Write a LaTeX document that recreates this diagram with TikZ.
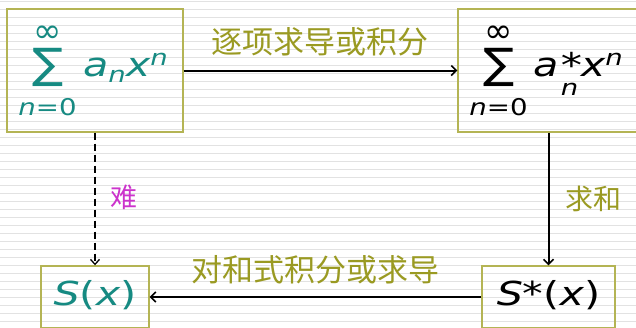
\documentclass[tikz,border=0pt]{standalone}
\usepackage{fontspec}
\usepackage{graphicx}
\setmainfont{DejaVu Sans}
\newfontfamily\cjk{Noto Sans CJK SC}
\usetikzlibrary{arrows.meta}
\definecolor{tealc}{HTML}{168A82}
\definecolor{olivec}{HTML}{9A9A22}
\definecolor{boxc}{HTML}{B4B454}
\definecolor{magc}{HTML}{CC33CC}
\definecolor{rulec}{HTML}{E2E2E2}
\tikzset{
  box/.style={draw=boxc, line width=1.4pt, inner sep=0pt, rectangle},
  conn/.style={line width=2pt, -{Straight Barb[length=5pt,width=10pt,line width=1.5pt]}},
  dconn/.style={line width=1.6pt, dash pattern=on 7pt off 4pt, -{Straight Barb[length=5pt,width=9pt,line width=1.3pt]}},
  lab/.style={font=\cjk\fontsize{31}{31}\selectfont, text=olivec, inner sep=0pt},
  slab/.style={font=\cjk\fontsize{27}{27}\selectfont, inner sep=0pt},
  big/.style={font=\fontsize{33}{33}\selectfont, inner sep=0pt},
  sig/.style={font=\fontsize{42}{42}\selectfont, inner sep=0pt},
  lim/.style={font=\fontsize{23}{23}\selectfont, inner sep=0pt, anchor=base},
  infs/.style={font=\fontsize{34}{34}\selectfont, inner sep=0pt},
}
\newcommand{\xs}[2][1.25]{\scalebox{#1}[1]{#2}}
\newcommand{\subn}{\raisebox{-6pt}{\fontsize{22}{22}\selectfont\itshape n}}
\newcommand{\lown}{\raisebox{-19pt}{\fontsize{22}{22}\selectfont\itshape n}}
\newcommand{\supn}{\raisebox{11pt}{\fontsize{22}{22}\selectfont\itshape n}}
\begin{document}
\begin{tikzpicture}[x=1pt,y=-1pt]
\useasboundingbox (0,0) rectangle (636,327);
\clip (0,0) rectangle (636,327);
\fill[white] (0,0) rectangle (636,327);
\foreach \k in {0,...,40} {
  \draw[rulec, line width=1pt] (0,{1+8*\k}) -- (636,{1+8*\k});
}
% boxes
\node[box, minimum width=176pt, minimum height=123pt] (b1) at (95,70.5) {};
\node[box, minimum width=186pt, minimum height=123pt] (b2) at (551,70.5) {};
\node[box, minimum width=108pt, minimum height=62pt] (b3) at (95,297) {};
\node[box, minimum width=133pt, minimum height=62pt] (b4) at (548.5,297) {};
% formula 1
\node[infs, text=tealc] (inf1) at (48,34.5) {∞};
\node[sig, text=tealc] (sig1) at (48.5,67.5) {\xs[1.1]{∑}};
\node[lim, text=tealc] (lo1) at (47.5,115) {\xs[1.2]{\itshape n\upshape =0}};
\node[big, text=tealc, anchor=base west] (f1) at (83,76) {\xs{\itshape a\subn x\supn}};
% formula 2
\node[infs] (inf2) at (498.5,34.5) {∞};
\node[sig] (sig2) at (499,67.5) {\xs[1.1]{∑}};
\node[lim] (lo2) at (498.5,115) {\xs[1.2]{\itshape n\upshape =0}};
\node[big, anchor=base west] (f2) at (533,76) {\xs{\itshape a\kern2pt\rlap{\raisebox{-1pt}{\fontsize{34}{34}\selectfont *}}\lown\kern2pt x\supn}};
% S nodes
\node[big, text=tealc, anchor=base] (s1) at (95,305) {\xs{\itshape S\upshape(\itshape x\upshape)}};
\node[big, anchor=base] (s2) at (548.5,305) {\xs{\itshape S\upshape*(\itshape x\upshape)}};
% connectors
\draw[conn] (b1.east) -- (b2.west);
\draw[dconn] (b1.south) -- (b3.north);
\draw[conn] (b2.south -| b4.north) -- (b4.north);
\draw[conn] (b4.west) -- (b3.east);
% labels
\node[lab] (l1) at (320,42) {逐项求导或积分};
\node[lab] (l2) at (315,270) {对和式积分或求导};
\node[slab, text=magc] (l3) at (124,197) {难};
\node[slab, text=olivec, font=\cjk\fontsize{28}{28}\selectfont] (l4) at (593,199) {求和};
\end{tikzpicture}
\end{document}
